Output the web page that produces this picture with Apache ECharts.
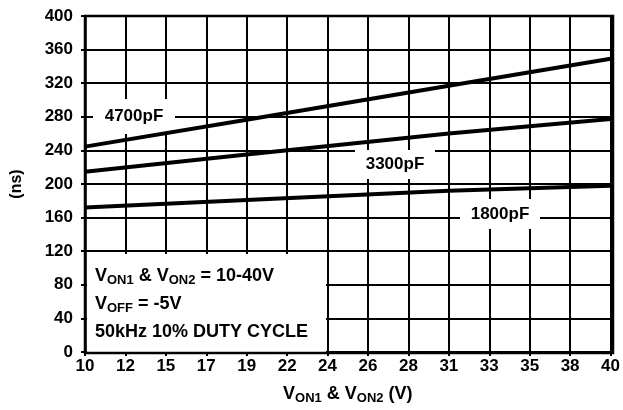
<!DOCTYPE html>
<html>
<head>
<meta charset="utf-8">
<script src="https://cdn.jsdelivr.net/npm/echarts@6/dist/echarts.min.js"></script>
<style>
    html, body { margin: 0; padding: 0; background: #fff; }
    #chart { width: 623px; height: 410px; }
</style>
</head>
<body>
<div id="chart"></div>
<script>
    // tick labels along x (13 equal steps from 10 V to 40 V, rounded on the sheet)
    const xLabels = ['10', '12', '15', '17', '19', '22', '24', '26', '28', '31', '33', '35', '38', '40'];
    // sample positions, as tick index
    const xIdx = [0, 4, 9, 13];
    const c4700 = [244.5, 276.5, 317, 349];
    const c3300 = [214.5, 235, 260, 277.5];
    const c1800 = [172, 181, 192, 198];

    const FONT = 'Liberation Sans';
    const pairs = arr => xIdx.map((x, i) => [x, arr[i]]);

    const chart = echarts.init(document.getElementById('chart'));

    const lineSeries = (name, arr) => ({
        name: name,
        type: 'line',
        data: pairs(arr),
        symbol: 'none',
        z: 10,
        lineStyle: { color: '#000', width: 4 },
    });

    // white patch with a curve label on it
    const labelBox = (x, y, w, h, text) => [
        { type: 'rect', z: 6, shape: { x: x, y: y, width: w, height: h }, style: { fill: '#fff' } },
        {
            type: 'text', z: 7, x: x + w / 2, y: y + h / 2,
            style: { text: text, fill: '#000', font: 'bold 17px ' + FONT, align: 'center', verticalAlign: 'middle' }
        },
    ];

    const subRich = {
        n: { fontFamily: FONT, fontWeight: 'bold', fontSize: 18, color: '#000' },
        s: { fontFamily: FONT, fontWeight: 'bold', fontSize: 13, color: '#000', padding: [9, 0, 0, 0] },
    };

    chart.setOption({
        animation: false,
        grid: { left: 85, right: 10, top: 16, bottom: 57 },
        xAxis: {
            type: 'value',
            min: 0, max: 13, interval: 1,
            name: '{n|V}{s|ON1}{n| & V}{s|ON2}{n| (V)}',
            nameLocation: 'middle',
            nameGap: 32,
            nameTextStyle: {
                rich: {
                    n: { fontFamily: FONT, fontWeight: 'bold', fontSize: 18, color: '#000' },
                    s: { fontFamily: FONT, fontWeight: 'bold', fontSize: 13, color: '#000', padding: [8, 0, 0, 0] },
                }
            },
            axisLine: { lineStyle: { color: '#000', width: 2.5 } },
            axisTick: { show: true, length: 4, lineStyle: { color: '#000', width: 2 } },
            axisLabel: {
                formatter: v => xLabels[v],
                color: '#000', fontFamily: FONT, fontWeight: 'bold', fontSize: 17, margin: 6,
            },
            splitLine: { show: true, lineStyle: { color: '#000', width: 2 } },
        },
        yAxis: {
            type: 'value',
            min: 0, max: 400, interval: 40,
            name: '(ns)',
            nameLocation: 'middle',
            nameGap: 60,
            nameTextStyle: { color: '#000', fontFamily: FONT, fontWeight: 'bold', fontSize: 16 },
            axisLine: { show: true, lineStyle: { color: '#000', width: 2.5 } },
            axisTick: { show: true, length: 4, lineStyle: { color: '#000', width: 2 } },
            axisLabel: { color: '#000', fontFamily: FONT, fontWeight: 'bold', fontSize: 17, margin: 12 },
            splitLine: { show: true, lineStyle: { color: '#000', width: 2 } },
        },
        graphic: [
            // frame right/top edges
            { type: 'rect', z: 8, shape: { x: 85, y: 16, width: 528, height: 337 },
              style: { fill: 'none', stroke: '#000', lineWidth: 2.5 } },
            ...labelBox(93, 99, 82, 35, '4700pF'),
            ...labelBox(355, 150, 80, 29, '3300pF'),
            ...labelBox(460, 199, 80, 30, '1800pF'),
            { type: 'rect', z: 6, shape: { x: 87, y: 254, width: 239, height: 98 }, style: { fill: '#fff' } },
            { type: 'text', z: 7, x: 95, y: 265, style: { rich: subRich, text: '{n|V}{s|ON1}{n| & V}{s|ON2}{n| = 10-40V}' } },
            { type: 'text', z: 7, x: 95, y: 293, style: { rich: subRich, text: '{n|V}{s|OFF}{n| = -5V}' } },
            { type: 'text', z: 7, x: 95, y: 323, style: { rich: subRich, text: '{n|50kHz 10% DUTY CYCLE}' } },
        ],
        series: [
            lineSeries('4700pF', c4700),
            lineSeries('3300pF', c3300),
            lineSeries('1800pF', c1800),
        ]
    });
</script>
</body>
</html>
